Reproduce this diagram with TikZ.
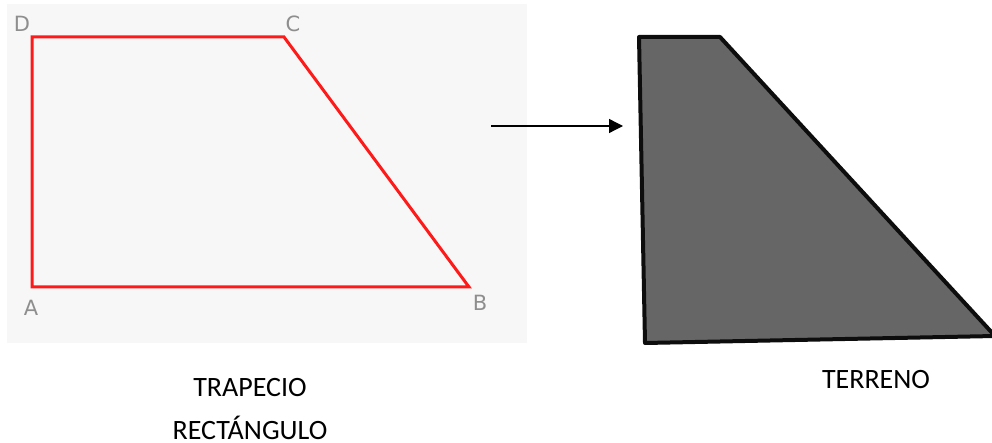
\documentclass[tikz,border=0pt]{standalone}
\usepackage{fontspec}
\setmainfont{Carlito}
\newfontfamily\vertexfont{DejaVu Sans}
\usetikzlibrary{arrows.meta,positioning}
\definecolor{panelgray}{HTML}{F7F7F7}
\definecolor{trapred}{HTML}{FF1A1A}
\definecolor{vertexgray}{HTML}{8E8E8E}
\definecolor{terrenogray}{HTML}{666666}

\begin{document}
\begin{tikzpicture}[x=1pt,y=-1pt,
  vertexlbl/.style={font=\vertexfont\fontsize{21}{24}\selectfont,text=vertexgray,inner sep=0pt},
  caption/.style={font=\fontsize{28}{43}\selectfont,align=center,inner sep=0pt}]
  \useasboundingbox (0,0) rectangle (992,443);
  \fill[panelgray] (7,4) rectangle (527,343);
  % trapecio rectangulo
  \coordinate (A) at (32,287);
  \coordinate (B) at (469,287);
  \coordinate (C) at (284,37);
  \coordinate (D) at (32,37);
  \draw[trapred,line width=3pt,line join=miter] (A) -- (B) -- (C) -- (D) -- cycle;
  \node[vertexlbl] (lblA) at (31,308) {A};
  \node[vertexlbl] (lblB) at (480,303) {B};
  \node[vertexlbl] (lblC) at (293,24) {C};
  \node[vertexlbl] (lblD) at (22,24) {D};
  % terreno
  \coordinate (T1) at (639,37);
  \coordinate (T2) at (720,37);
  \coordinate (T3) at (995,336);
  \coordinate (T4) at (645,343);
  \filldraw[fill=terrenogray,draw=black!95,line width=4pt,line join=round] (T1) -- (T2) -- (T3) -- (T4) -- cycle;
  \coordinate (arrowS) at (491,126);
  \coordinate (arrowE) at (623,126);
  \draw[line width=1.3pt,-{Triangle[length=14pt,width=14pt]}] (arrowS) -- (arrowE);
  \node[caption,anchor=base] (trapecio) at (250,439) {TRAPECIO\\RECTÁNGULO};
  \node[caption,anchor=base] (terreno) at (876,388) {TERRENO};
\end{tikzpicture}
\end{document}
